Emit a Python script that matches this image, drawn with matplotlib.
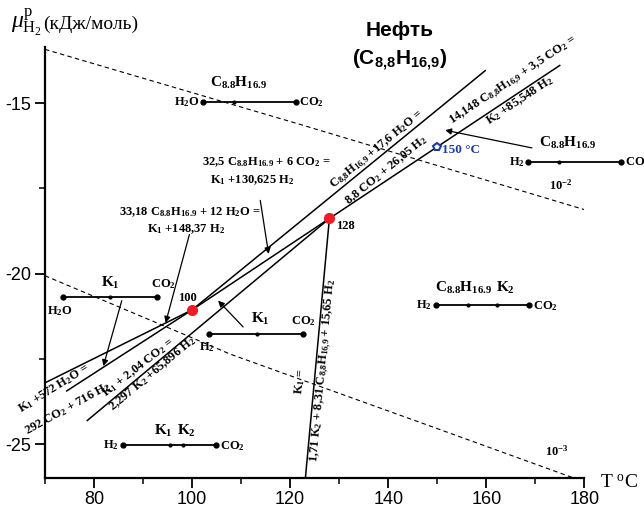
import matplotlib
matplotlib.use("Agg")
import matplotlib.pyplot as plt
import numpy as np
from matplotlib.ticker import MultipleLocator, FixedLocator

plt.rcParams['axes.unicode_minus'] = False
plt.rcParams['mathtext.fontset'] = 'custom'
plt.rcParams['mathtext.default'] = 'bf'
plt.rcParams['mathtext.bf'] = 'Liberation Serif:bold'
plt.rcParams['mathtext.rm'] = 'Liberation Serif'
plt.rcParams['mathtext.it'] = 'Liberation Serif:italic'
plt.rcParams['mathtext.sf'] = 'Liberation Sans:bold'

# ---------------- data ----------------
xticks = [80, 100, 120, 140, 160, 180]
yticks = [-25, -20, -15]

inv_T = [100, 128]
inv_mu = [-21.06, -18.38]
inv_labels = ['100', '128']

pt150_T = [150]
pt150_mu = [-16.29]

# reaction boundaries (T, mu)
up_T, up_mu = [100, 159.9], [-21.06, -14.03]        # C8.8H16.9 + 17.6 H2O = 8.8 CO2 + 26.05 H2
k2c_T, k2c_mu = [128, 175.1], [-18.38, -13.88]      # 14.148 C + 3.5 CO2 = K2 + 85.548 H2
a_T, a_mu = [70, 100], [-23.2, -21.06]              # 33.18 C + 12 H2O = K1 + 148.37 H2
b_T, b_mu = [74.3, 100], [-23.45, -21.06]           # K1 + 572 H2O = 292 CO2 + 716 H2
r3_T, r3_mu = [100, 128], [-21.06, -18.38]          # 32.5 C + 6 CO2 = K1 + 130.625 H2
c_T, c_mu = [78.5, 128], [-24.32, -18.38]           # K1 + 2.04 CO2 = 2.297 K2 + 65.896 H2
v_T, v_mu = [123.1, 128], [-26.0, -18.38]           # K1 = 1.71 K2 + 8.31 C + 15.65 H2

# dashed isolines
d2_T, d2_mu = [70, 122, 180], [-13.42, -15.62, -18.12]
d3_T = [70, 98.2, 107.8, 148.6, 177.8]
d3_mu = [-20.06, -21.77, -22.36, -24.47, -25.99]

# mini assemblage diagrams
m1_T, m1_mu = [102.2, 108.5, 121.1], -14.97
m2_T, m2_mu = [168.5, 174.9, 187.5], -16.72
m3_T, m3_mu = [73.7, 83.3, 92.9], -20.68
m4_T, m4_mu = [103.5, 113.2, 122.6], -21.77
m5_T, m5_mu = [149.7, 156.2, 162.2, 168.8], -20.93
m6_T, m6_mu = [85.9, 95.5, 98.2, 104.9], -25.03

CH = 'C$_{8.8}$H$_{16.9}$'
CHc = 'C$_{8{,}8}$H$_{16{,}9}$'

fig = plt.figure(figsize=(6.44, 5.08), dpi=100)
ax = fig.add_axes([0.0699, 0.0585, 0.8375, 0.849])
ax.set_xlim(70, 180)
ax.set_ylim(-26, -13.35)

for s in ['top', 'right']:
    ax.spines[s].set_visible(False)
for s in ['left', 'bottom']:
    ax.spines[s].set_linewidth(1.6)

ax.xaxis.set_major_locator(FixedLocator(xticks))
ax.xaxis.set_minor_locator(MultipleLocator(10))
ax.yaxis.set_major_locator(FixedLocator(yticks))
ax.yaxis.set_minor_locator(MultipleLocator(2.5))
ax.tick_params(which='major', length=7, width=1.3, labelsize=13, pad=3)
ax.tick_params(which='minor', length=4, width=1.1)
ax.tick_params(axis='x', which='major', pad=2.5)
for lab in ax.get_xticklabels() + ax.get_yticklabels():
    lab.set_fontfamily('Liberation Sans')

# dashed lines
ax.plot(d2_T, d2_mu, ls=(0, (4, 3)), color='k', lw=0.8)
ax.plot(d3_T, d3_mu, ls=(0, (4, 3)), color='k', lw=0.8)

# solid reaction lines
for T, mu in [(up_T, up_mu), (k2c_T, k2c_mu), (a_T, a_mu), (b_T, b_mu),
              (r3_T, r3_mu), (c_T, c_mu), (v_T, v_mu)]:
    ax.plot(T, mu, color='k', lw=1.1, solid_capstyle='butt')

ax.plot(inv_T, inv_mu, 'o', color='#ee1c25', ms=7, zorder=5)
ax.plot(pt150_T, pt150_mu, marker='p', ms=6, mfc='white', mec='#1f3da0', mew=1.5, ls='none', zorder=5)

fig.canvas.draw()

def ang(T, mu):
    p = ax.transData.transform(np.column_stack([T, mu]))
    d = p[-1] - p[0]
    return np.degrees(np.arctan2(d[1], d[0]))

FS = 9
tkw = dict(family='Liberation Serif', fontweight='bold', fontsize=FS,
           ha='center', va='center', rotation_mode='anchor')

ax.text(137.7, -16.36, CHc + ' +17,6 H$_2$O =', rotation=ang(up_T, up_mu), **tkw)
ax.text(139.6, -16.95, '8,8 CO$_2$ + 26,05 H$_2$', rotation=ang(up_T, up_mu), **tkw)
ax.text(165.6, -14.33, '14,148 ' + CHc + ' + 3,5 CO$_2$ =', rotation=ang(k2c_T, k2c_mu), **tkw)
ax.text(166.9, -14.92, 'K$_2$ +85,548 H$_2$', rotation=ang(k2c_T, k2c_mu), **tkw)
ax.text(71.9, -23.37, 'K$_1$ +572 H$_2$O =', rotation=32, clip_on=False, **tkw)
ax.text(74.7, -23.96, '292 CO$_2$ + 716 H$_2$', rotation=29, clip_on=False, **tkw)
ax.text(89.0, -22.75, 'K$_1$ + 2,04 CO$_2$ =', rotation=ang(c_T, c_mu) - 2, **tkw)
ax.text(91.9, -22.93, '2,297 K$_2$ +65,896 H$_2$', rotation=ang(c_T, c_mu), **tkw)
ax.text(122.0, -23.15, 'K$_1$ =', rotation=ang(v_T, v_mu), **tkw)
ax.text(126.9, -22.85, '1,71 K$_2$ + 8,31 ' + CHc + ' + 15,65 H$_2$', rotation=ang(v_T, v_mu), **tkw)

hkw = dict(family='Liberation Serif', fontweight='bold', fontsize=FS, ha='center', va='center')
ax.text(115.2, -16.73, '32,5 ' + CH + ' + 6 CO$_2$ =', **hkw)
ax.text(112.2, -17.26, 'K$_1$ +130,625 H$_2$', **hkw)
ax.text(99.6, -18.18, '33,18 ' + CH + ' + 12 H$_2$O =', **hkw)
ax.text(98.8, -18.70, 'K$_1$ +148,37 H$_2$', **hkw)

ax.text(99.1, -20.70, inv_labels[0], **hkw)
ax.text(131.3, -18.60, inv_labels[1], **hkw)
ax.text(154.8, -16.38, '150 °C', color='#1f3da0', family='Liberation Serif', fontweight='bold',
        fontsize=9.5, ha='center', va='center')
ax.text(175.1, -17.42, '10$^{-2}$', **hkw)
ax.text(174.4, -25.21, '10$^{-3}$', **hkw)

# arrows
akw = dict(arrowstyle='-|>', color='k', lw=0.9, mutation_scale=9, shrinkA=0, shrinkB=0)
ax.annotate('', xy=(115.6, -19.42), xytext=(113.9, -17.85), arrowprops=akw)
ax.annotate('', xy=(94.6, -21.44), xytext=(99.45, -18.85), arrowprops=akw)
ax.annotate('', xy=(81.9, -22.71), xytext=(85.65, -20.79), arrowprops=akw)
ax.annotate('', xy=(105.3, -20.79), xytext=(110.4, -21.56), arrowprops=akw)
ax.annotate('', xy=(151.6, -15.79), xytext=(169.3, -16.31), arrowprops=akw, annotation_clip=False)

# mini diagrams
def mini(T, mu):
    ax.plot(T, [mu] * len(T), '-', color='k', lw=1.3, clip_on=False)
    ax.plot([T[0], T[-1]], [mu, mu], 'o', color='k', ms=3.5, clip_on=False)
    if len(T) > 2:
        ax.plot(T[1:-1], [mu] * (len(T) - 2), 'o', color='k', ms=2, clip_on=False)

for T, mu in [(m1_T, m1_mu), (m2_T, m2_mu), (m3_T, m3_mu), (m4_T, m4_mu), (m5_T, m5_mu), (m6_T, m6_mu)]:
    mini(T, mu)

bkw = dict(family='Liberation Serif', fontweight='bold', fontsize=11, ha='center', va='center', clip_on=False)
skw = dict(family='Liberation Serif', fontweight='bold', fontsize=9, va='center', clip_on=False)
ax.text(109.45, -14.40, CH, **bkw)
ax.text(101.6, -14.97, 'H$_2$O', ha='right', **skw)
ax.text(121.7, -14.97, 'CO$_2$', ha='left', **skw)

ax.text(176.5, -16.17, CH, **bkw)
ax.text(167.8, -16.72, 'H$_2$', ha='right', **skw)
ax.text(188.2, -16.72, 'CO$_2$', ha='left', **skw)

ax.text(83.3, -20.26, 'K$_1$', **bkw)
ax.text(73.1, -21.09, 'H$_2$O', ha='center', **skw)
ax.text(94.2, -20.30, 'CO$_2$', ha='center', **skw)

ax.text(114.0, -21.33, 'K$_1$', **bkw)
ax.text(122.7, -21.38, 'CO$_2$', ha='center', **skw)
ax.text(103.0, -22.15, 'H$_2$', ha='center', **skw)

ax.text(155.3, -20.41, CH, **bkw)
ax.text(163.9, -20.41, 'K$_2$', **bkw)
ax.text(148.9, -20.93, 'H$_2$', ha='right', **skw)
ax.text(169.6, -20.95, 'CO$_2$', ha='left', **skw)

ax.text(94.1, -24.62, 'K$_1$', **bkw)
ax.text(98.9, -24.62, 'K$_2$', **bkw)
ax.text(85.0, -25.03, 'H$_2$', ha='right', **skw)
ax.text(105.7, -25.06, 'CO$_2$', ha='left', **skw)

# titles / axis labels
fig.text(400 / 644, 1 - 30 / 508, 'Нефть', family='Liberation Sans', fontweight='bold',
         fontsize=15, ha='center', va='center')
fig.text(400 / 644, 1 - 60 / 508, r'(C$_{\mathsf{8{,}8}}$H$_{\mathsf{16{,}9}}$)', family='Liberation Sans',
         fontweight='bold', fontsize=15, ha='center', va='center')
fig.text(11 / 644, 1 - 22 / 508, r'$\mathit{\mu}^{\mathrm{p}}_{\mathrm{H}_{\mathrm{2}}}$',
         family='Liberation Serif', fontsize=17, ha='left', va='center')
fig.text(43 / 644, 1 - 24 / 508, '(кДж/моль)',
         family='Liberation Serif', fontsize=14, ha='left', va='center')
fig.text(600 / 644, 1 - 483 / 508, r'T $^{\mathrm{o}}$C', family='Liberation Serif', fontsize=14,
         ha='left', va='center')

fig.savefig('out.png', dpi=100)
